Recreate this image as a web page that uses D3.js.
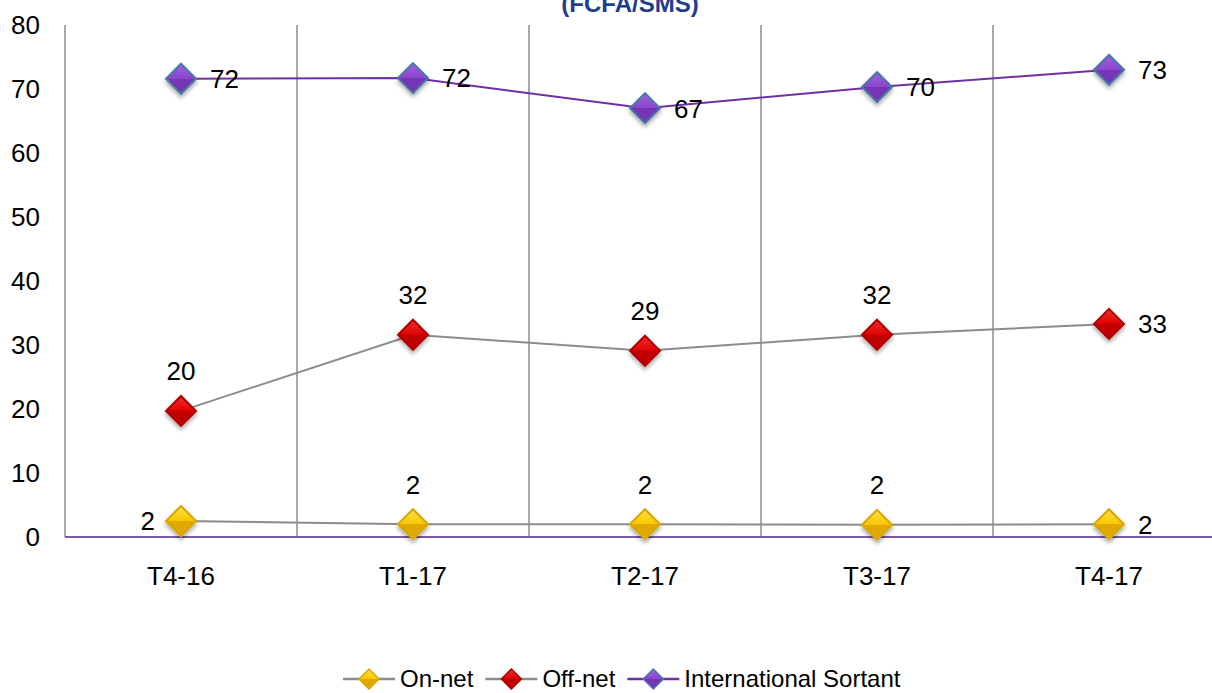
<!DOCTYPE html>
<html>
<head>
<meta charset="utf-8">
<script src="https://cdn.jsdelivr.net/npm/d3@7"></script>
<style>
  body { margin: 0; background: #fff; overflow: hidden; }
  text { font-family: "Liberation Sans Narrow", "Liberation Sans", sans-serif; font-weight: 400; }
  .legend text { font-family: "Liberation Sans", Arial, sans-serif; }
</style>
</head>
<body>
<div id="chart"></div>
<script>
// Data
const categories = ["T4-16", "T1-17", "T2-17", "T3-17", "T4-17"];
const onNet = [2.5, 2.0, 2.0, 1.9, 2.0];
const offNet = [19.7, 31.6, 29.1, 31.6, 33.3];
const international = [71.6, 71.7, 67.0, 70.3, 73.0];
const onNetLabels = ["2", "2", "2", "2", "2"];
const offNetLabels = ["20", "32", "29", "32", "33"];
const intlLabels = ["72", "72", "67", "70", "73"];
const yTicks = [0, 10, 20, 30, 40, 50, 60, 70, 80];
const seriesNames = ["On-net", "Off-net", "International Sortant"];

// label placement per point: r = right, a = above, l = left
const onNetPos = ["l", "a", "a", "a", "r"];
const offNetPos = ["a", "a", "a", "a", "r"];
const intlPos = ["r", "r", "r", "r", "r"];

const width = 1212;
const height = 693;
const margin = { left: 65, top: 25, bottom: 156 };
const plotRight = 1225;

const svg = d3.select("#chart").append("svg")
  .attr("width", width).attr("height", height);

const defs = svg.append("defs");

const x = d3.scaleBand().domain(categories).range([margin.left, plotRight]);
const y = d3.scaleLinear().domain([0, 80]).range([height - margin.bottom, margin.top]);

// Diamond gradients
const makeGrad = (id, light, mid, dark) => {
  const g = defs.append("linearGradient").attr("id", id)
    .attr("x1", 0).attr("y1", 0).attr("x2", 0).attr("y2", 1);
  g.append("stop").attr("offset", "0%").attr("stop-color", light);
  g.append("stop").attr("offset", "50%").attr("stop-color", mid);
  g.append("stop").attr("offset", "51%").attr("stop-color", dark);
  g.append("stop").attr("offset", "100%").attr("stop-color", dark);
};
makeGrad("gOn", "#ffe04a", "#f7c800", "#e0a800");
makeGrad("gOff", "#f03030", "#e00000", "#c00000");
makeGrad("gIntl", "#a060e0", "#8a45cc", "#7434b4");

const shadow = defs.append("filter").attr("id", "shadow")
  .attr("x", "-50%").attr("y", "-50%").attr("width", "200%").attr("height", "200%");
shadow.append("feDropShadow").attr("dx", 0).attr("dy", 3).attr("stdDeviation", 2)
  .attr("flood-color", "#000").attr("flood-opacity", 0.35);

// Title (clipped at the top, as in the source image)
svg.append("text")
  .attr("x", 630).attr("y", 12)
  .attr("text-anchor", "middle")
  .attr("fill", "#203c8c")
  .style("font-weight", "700")
  .style("font-size", "24px")
  .text("(FCFA/SMS)");

// Vertical gridlines at band edges
const edges = categories.map((c) => x(c)).concat([plotRight]);
svg.append("g").selectAll("line").data(edges.slice(1)).enter().append("line")
  .attr("x1", (d) => d).attr("x2", (d) => d)
  .attr("y1", y(80)).attr("y2", y(0))
  .attr("stroke", "#8c8c8c").attr("stroke-width", 1.5);

// Y axis
svg.append("line")
  .attr("x1", margin.left).attr("x2", margin.left)
  .attr("y1", y(80)).attr("y2", y(0))
  .attr("stroke", "#8c8c8c").attr("stroke-width", 1.5);

svg.append("g").selectAll("text").data(yTicks).enter().append("text")
  .attr("x", 40).attr("y", (d) => y(d))
  .attr("dy", "0.35em")
  .attr("text-anchor", "end")
  .style("font-size", "26px")
  .attr("fill", "#000")
  .text((d) => d);

// X axis baseline
svg.append("line")
  .attr("x1", margin.left).attr("x2", plotRight)
  .attr("y1", y(0)).attr("y2", y(0))
  .attr("stroke", "#7e5aa8").attr("stroke-width", 2);

svg.append("g").selectAll("text").data(categories).enter().append("text")
  .attr("x", (d) => x(d) + x.bandwidth() / 2).attr("y", y(0) + 48)
  .attr("text-anchor", "middle")
  .style("font-size", "26px")
  .attr("fill", "#000")
  .text((d) => d);

const series = [
  { name: seriesNames[0], values: onNet, labels: onNetLabels, pos: onNetPos, line: "#8c8c8c", grad: "gOn", stroke: "#d8a800" },
  { name: seriesNames[1], values: offNet, labels: offNetLabels, pos: offNetPos, line: "#8c8c8c", grad: "gOff", stroke: "#b00000" },
  { name: seriesNames[2], values: international, labels: intlLabels, pos: intlPos, line: "#7030a0", grad: "gIntl", stroke: "#4a78a8" },
];

const cx = (i) => x(categories[i]) + x.bandwidth() / 2;
const diamond = (s) => `M0,${-s}L${s},0L0,${s}L${-s},0Z`;

series.forEach((s) => {
  const line = d3.line().x((d, i) => cx(i)).y((d) => y(d));
  svg.append("path").datum(s.values)
    .attr("d", line)
    .attr("fill", "none")
    .attr("stroke", s.line)
    .attr("stroke-width", 2);

  svg.append("g").selectAll("path").data(s.values).enter().append("path")
    .attr("d", diamond(15))
    .attr("transform", (d, i) => `translate(${cx(i)},${y(d)})`)
    .attr("fill", `url(#${s.grad})`)
    .attr("stroke", s.stroke).attr("stroke-width", 2)
    .attr("filter", "url(#shadow)");

  svg.append("g").selectAll("text").data(s.values).enter().append("text")
    .attr("x", (d, i) => s.pos[i] === "r" ? cx(i) + 29 : s.pos[i] === "l" ? cx(i) - 26 : cx(i))
    .attr("y", (d, i) => s.pos[i] === "a" ? y(d) - 40 : y(d))
    .attr("dy", "0.36em")
    .attr("text-anchor", (d, i) => s.pos[i] === "r" ? "start" : s.pos[i] === "l" ? "end" : "middle")
    .style("font-size", "26px")
    .attr("fill", "#000")
    .text((d, i) => s.labels[i]);
});

// Legend
const legend = svg.append("g").attr("class", "legend");
let lx = 343;
series.forEach((s) => {
  const g = legend.append("g").attr("transform", `translate(${lx},679)`);
  g.append("line").attr("x1", 0).attr("x2", 52).attr("y1", 0).attr("y2", 0)
    .attr("stroke", s.line).attr("stroke-width", 2.5);
  g.append("path").attr("d", diamond(10)).attr("transform", "translate(26,0)")
    .attr("fill", `url(#${s.grad})`).attr("stroke", s.stroke).attr("stroke-width", 1.5);
  const t = g.append("text").attr("x", 57).attr("y", 0).attr("dy", "0.35em")
    .style("font-size", "24px").attr("fill", "#000").text(s.name);
  lx += 57 + t.node().getComputedTextLength() + 12;
});
</script>
</body>
</html>
